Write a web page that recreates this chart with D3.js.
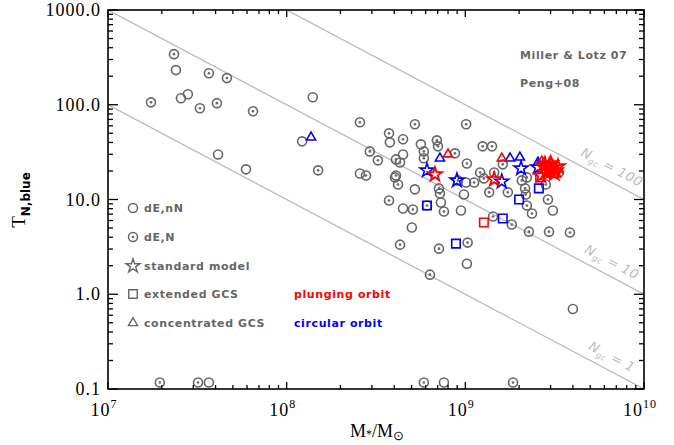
<!DOCTYPE html>
<html>
<head>
<meta charset="utf-8">
<script src="https://cdn.jsdelivr.net/npm/d3@7/dist/d3.min.js"></script>
<style>
  body { margin: 0; background: #fff; }
  .tick-lab { font-family: "Liberation Serif", serif; font-size: 18px; fill: #000; letter-spacing: 1px; }
  .leg { font-family: "DejaVu Sans", sans-serif; font-weight: bold; font-size: 11px; fill: #666; letter-spacing: 0.6px; }
  .ngc { font-family: "DejaVu Sans", sans-serif; font-style: italic; font-size: 13px; fill: #bbb; letter-spacing: 0.5px; }
</style>
</head>
<body>
<svg width="674" height="445"></svg>
<script>
// stellar mass (M_sun) and T_N,blue for each sample
const dEnN = [
  [2.40e7, 232], [2.56e7, 117], [2.80e7, 129], [1.40e8, 120], [4.13e7, 29.9],
  [5.92e7, 20.8], [1.22e8, 41.1], [3.78e8, 40.1], [5.64e8, 38.2], [4.48e8, 29.9],
  [2.57e8, 18.8], [4.04e8, 17.1], [5.22e8, 12.8], [4.48e8, 8.03], [5.02e8, 5.06],
  [1.01e9, 15.1], [7.30e8, 9.3], [9.45e8, 7.65], [9.82e8, 11.3], [3.09e9, 7.65],
  [1.02e9, 2.10], [4.00e9, 0.70], [3.67e7, 0.117], [7.59e8, 0.117]
];
const dEN = [
  [2.34e7, 342], [3.67e7, 215], [4.63e7, 191], [1.74e7, 106], [3.27e7, 91.8],
  [4.07e7, 104], [6.48e7, 85.3], [1.50e8, 20.3], [2.57e8, 65.3], [5.22e8, 62.2],
  [1.01e9, 62.2], [3.74e8, 49.9], [4.48e8, 43.2], [2.92e8, 32.2], [3.24e8, 25.9],
  [5.86e8, 32.2], [6.93e8, 42.1], [7.03e8, 36.4], [5.86e8, 27.2], [4.09e8, 26.5],
  [4.31e8, 24.6], [2.78e8, 17.9], [4.09e8, 17.9], [4.20e8, 14.4], [1.02e9, 24.0],
  [1.25e9, 36.4], [1.41e9, 36.4], [8.75e8, 30.7], [1.12e9, 15.1], [1.21e9, 19.3],
  [1.27e9, 16.7], [1.45e9, 19.3], [1.62e9, 23.5], [2.07e9, 15.9], [2.21e9, 17.1],
  [2.16e9, 13.1], [2.90e9, 10.0], [2.21e9, 8.64], [2.36e9, 7.11], [1.36e9, 11.9],
  [7.12e8, 13.1], [7.21e8, 11.6], [7.59e8, 7.47], [3.74e8, 9.76], [5.09e8, 7.84],
  [6.10e8, 8.64], [3.34e9, 19.3], [2.82e9, 14.4], [1.43e9, 6.61], [1.82e9, 5.44],
  [2.27e9, 4.58], [2.94e9, 4.58], [3.85e9, 4.48], [4.31e8, 3.34], [7.12e8, 3.03],
  [1.03e9, 3.51], [6.34e8, 1.61], [5.86e8, 0.117], [1.85e9, 0.117], [1.95e7, 0.117],
  [3.19e7, 0.117], [9.09e8, 15.9], [2.18e9, 11.3], [1.73e9, 11.9]
];
// simulations: standard model (stars), extended GCS (squares), concentrated GCS (triangles)
const starPlunging = [
  [6.76e8, 18.4], [1.45e9, 16.3], [2.72e9, 22.3], [2.90e9, 20.8], [3.09e9, 21.8],
  [2.82e9, 19.3], [3.01e9, 24.0], [3.21e9, 20.3], [2.65e9, 17.9], [2.79e9, 23.5],
  [3.30e9, 22.3], [3.00e9, 19.7], [2.95e9, 22.8], [3.15e9, 18.8]
];
const starCircular = [[6.10e8, 20.3], [8.97e8, 15.9], [1.60e9, 15.5], [2.05e9, 21.3], [2.55e9, 21.8]];
const squarePlunging = [[1.27e9, 5.71], [2.62e9, 17.1]];
const squareCircular = [[6.10e8, 8.64], [8.86e8, 3.42], [1.62e9, 6.30], [2.00e9, 10.0], [2.58e9, 13.1]];
const triPlunging = [[8.0e8, 30.0], [1.60e9, 27.2], [2.68e9, 25.2]];
const triCircular = [[1.37e8, 45.3], [7.21e8, 27.2], [1.78e9, 27.2], [2.02e9, 27.8], [2.55e9, 24.6]];

const ngcValues = [1, 10, 100];
const xTicks = [1e7, 1e8, 1e9, 1e10];
const xTickExp = ["7", "8", "9", "10"];
const yTicks = [0.1, 1, 10, 100, 1000];
const yTickLabels = ["0.1", "1.0", "10.0", "100.0", "1000.0"];

const legendItems = ["dE,nN", "dE,N", "standard model", "extended GCS", "concentrated GCS"];
const orbitItems = [["plunging orbit", "#ff0000"], ["circular orbit", "#0000ff"]];
const sources = ["Miller & Lotz 07", "Peng+08"];

const svg = d3.select("svg");
const pLeft = 108, pRight = 644, pTop = 10, pBottom = 389;

const x = d3.scaleLog().domain([1e7, 1e10]).range([pLeft, pRight]);
const y = d3.scaleLog().domain([0.1, 1000]).range([pBottom, pTop]);

const gray = "#666";

svg.append("clipPath").attr("id", "plotclip")
  .append("rect").attr("x", pLeft).attr("y", pTop).attr("width", pRight - pLeft).attr("height", pBottom - pTop);

// lines of constant N_gc : T = N_gc / (M / 1e9)
const lineG = svg.append("g").attr("clip-path", "url(#plotclip)");
ngcValues.forEach(n => {
  const pts = [1e6, 1e11].map(m => [x(m), y(n * 1e9 / m)]);
  lineG.append("line")
    .attr("x1", pts[0][0]).attr("y1", pts[0][1])
    .attr("x2", pts[1][0]).attr("y2", pts[1][1])
    .attr("stroke", "#bbb").attr("stroke-width", 1.3);
});
const ang = Math.atan2(y(1) - y(10), x(1e8) - x(1e7)) * 180 / Math.PI;
ngcValues.forEach(n => {
  const m = 6.1e9;
  const px = x(m), py = y(n * 1e9 / m);
  const t = svg.append("text").attr("class", "ngc")
    .attr("transform", `translate(${px},${py}) rotate(${ang}) translate(0,-9)`)
    .attr("text-anchor", "middle");
  t.append("tspan").text("N");
  t.append("tspan").attr("font-size", "8px").attr("dy", 3).text("gc");
  t.append("tspan").attr("dy", -3).text("  = " + n);
});

// markers
function circles(data, dotted) {
  const g = svg.append("g");
  g.selectAll("circle.o").data(data).enter().append("circle")
    .attr("cx", d => x(d[0])).attr("cy", d => y(d[1])).attr("r", 4.5)
    .attr("fill", "none").attr("stroke", gray).attr("stroke-width", 1.6);
  if (dotted) {
    g.selectAll("circle.d").data(data).enter().append("circle")
      .attr("cx", d => x(d[0])).attr("cy", d => y(d[1])).attr("r", 1.3)
      .attr("fill", gray);
  }
}
circles(dEnN, false);
circles(dEN, true);

function symbols(data, type, size, color, sw) {
  svg.append("g").selectAll("path").data(data).enter().append("path")
    .attr("transform", d => `translate(${x(d[0])},${y(d[1])})`)
    .attr("d", d3.symbol().type(type).size(size))
    .attr("fill", "none").attr("stroke", color).attr("stroke-width", sw || 1.6);
}
symbols(squareCircular, d3.symbolSquare, 72, "#0000ff");
symbols(triCircular, d3.symbolTriangle, 36, "#0000ff");
symbols(starCircular, d3.symbolStar, 60, "#0000ff");
symbols(squarePlunging, d3.symbolSquare, 72, "#ff0000");
symbols(triPlunging, d3.symbolTriangle, 36, "#ff0000");
symbols(starPlunging, d3.symbolStar, 60, "#ff0000", 1.8);

// frame + ticks
svg.append("rect").attr("x", pLeft).attr("y", pTop).attr("width", pRight - pLeft).attr("height", pBottom - pTop)
  .attr("fill", "none").attr("stroke", "#000").attr("stroke-width", 1.6);

const xMinor = [];
for (let e = 7; e < 10; e++) for (let k = 2; k <= 9; k++) xMinor.push(k * Math.pow(10, e));
const yMinor = [];
for (let e = -1; e < 3; e++) for (let k = 2; k <= 9; k++) yMinor.push(k * Math.pow(10, e));

const axes = svg.append("g").attr("stroke", "#000").attr("stroke-width", 1.3);
xTicks.forEach(v => {
  axes.append("line").attr("x1", x(v)).attr("x2", x(v)).attr("y1", pBottom).attr("y2", pBottom - 7);
  axes.append("line").attr("x1", x(v)).attr("x2", x(v)).attr("y1", pTop).attr("y2", pTop + 7);
});
xMinor.forEach(v => {
  axes.append("line").attr("x1", x(v)).attr("x2", x(v)).attr("y1", pBottom).attr("y2", pBottom - 4);
  axes.append("line").attr("x1", x(v)).attr("x2", x(v)).attr("y1", pTop).attr("y2", pTop + 4);
});
yTicks.forEach(v => {
  axes.append("line").attr("x1", pLeft).attr("x2", pLeft + 10).attr("y1", y(v)).attr("y2", y(v));
  axes.append("line").attr("x1", pRight).attr("x2", pRight - 10).attr("y1", y(v)).attr("y2", y(v));
});
yMinor.forEach(v => {
  axes.append("line").attr("x1", pLeft).attr("x2", pLeft + 5).attr("y1", y(v)).attr("y2", y(v));
  axes.append("line").attr("x1", pRight).attr("x2", pRight - 5).attr("y1", y(v)).attr("y2", y(v));
});

// tick labels
yTicks.forEach((v, i) => {
  svg.append("text").attr("class", "tick-lab")
    .attr("x", pLeft - 7).attr("y", y(v) + 6).attr("text-anchor", "end")
    .text(yTickLabels[i]);
});
xTicks.forEach((v, i) => {
  const t = svg.append("text").attr("class", "tick-lab")
    .attr("x", x(v) - 4).attr("y", pBottom + 27).attr("text-anchor", "middle");
  t.append("tspan").text("10");
  t.append("tspan").attr("font-size", "12px").attr("dy", -8).text(xTickExp[i]);
});

// axis titles
const yt = svg.append("text").attr("transform", "translate(25,200) rotate(-90)")
  .attr("text-anchor", "middle").attr("font-family", "Liberation Serif, serif").attr("font-size", "19px");
yt.append("tspan").text("T");
yt.append("tspan").attr("font-size", "12px").attr("font-weight", "bold").attr("font-family", "DejaVu Sans, sans-serif")
  .attr("dy", 5).text("N,blue");

const xt = svg.append("text").attr("x", 377).attr("y", 437).attr("text-anchor", "middle")
  .attr("font-family", "Liberation Serif, serif").attr("font-size", "18px");
xt.append("tspan").text("M");
xt.append("tspan").attr("font-size", "12px").attr("dy", 1).text("*");
xt.append("tspan").attr("dy", -1).text("/M");
xt.append("tspan").attr("font-size", "13px").attr("dy", 3).text("\u2299");

// legend
const legY = [208, 237, 266, 294, 323];
const legX = 133;
const lg = svg.append("g");
lg.append("circle").attr("cx", legX).attr("cy", legY[0]).attr("r", 4.5)
  .attr("fill", "none").attr("stroke", gray).attr("stroke-width", 1.5);
lg.append("circle").attr("cx", legX).attr("cy", legY[1]).attr("r", 4.5)
  .attr("fill", "none").attr("stroke", gray).attr("stroke-width", 1.5);
lg.append("circle").attr("cx", legX).attr("cy", legY[1]).attr("r", 1.3).attr("fill", gray);
[[d3.symbolStar, 60], [d3.symbolSquare, 72], [d3.symbolTriangle, 36]].forEach((s, i) => {
  lg.append("path").attr("transform", `translate(${legX},${legY[i + 2]})`)
    .attr("d", d3.symbol().type(s[0]).size(s[1]))
    .attr("fill", "none").attr("stroke", gray).attr("stroke-width", 1.4);
});
legendItems.forEach((t, i) => {
  lg.append("text").attr("class", "leg").attr("x", 144).attr("y", legY[i] + 4).text(t);
});
orbitItems.forEach((o, i) => {
  lg.append("text").attr("class", "leg").attr("x", 294).attr("y", legY[i + 3] + 4)
    .style("fill", o[1]).text(o[0]);
});
sources.forEach((s, i) => {
  lg.append("text").attr("class", "leg").attr("x", 520).attr("y", 59 + i * 28).text(s);
});
</script>
</body>
</html>
